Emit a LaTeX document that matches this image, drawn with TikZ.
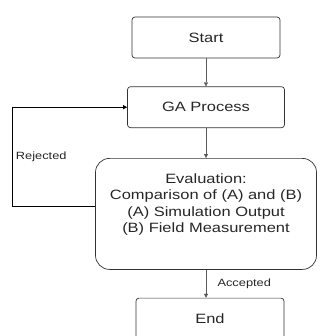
\documentclass[tikz,border=0pt]{standalone}
\usepackage{fontspec}
\setmainfont{Liberation Sans}[FakeStretch=1.22]
\usetikzlibrary{arrows.meta}
\usetikzlibrary{positioning}

\tikzset{
  stepbox/.style={draw=black!80, line width=0.7pt, rounded corners=3pt, minimum width=148pt,
    minimum height=41pt, text=black!85, font=\fontsize{13.5}{16.5}\selectfont},
  evalbox/.style={stepbox, rounded corners=14pt, minimum width=221pt,
    minimum height=111pt, align=center},
  flow/.style={draw=black!65, -{Triangle[length=4pt,width=4pt]}},
  loopback/.style={draw=black, line width=1pt, -{Triangle[length=4pt,width=4pt]}},
  tag/.style={text=black!85, font=\fontsize{10.5}{12}\selectfont}
}

\begin{document}
\begin{tikzpicture}[x=1pt,y=-1pt]
\clip (0,0) rectangle (321,336);
\node[stepbox] at (206,37.5) (start) {Start};
\node[stepbox, minimum width=157pt] (ga) [below=28pt of start] {GA Process};
\node[evalbox] (eval) [below=30pt of ga] {Evaluation:\\Comparison of (A) and (B)\\(A) Simulation Output\\(B) Field Measurement\\[5pt]\mbox{}};
\node[stepbox] (end) [below=28pt of eval, xshift=4pt] {End};
\draw[flow] (start) -- (ga);
\draw[flow] (ga) -- (eval);
\draw[flow] (eval.south) -- node[tag, right=8pt] {Accepted} (eval.south |- end.north);
\draw[loopback] ([yshift=7pt]eval.west) -- ++(-83,0) |- node[tag, pos=0.25, right] {Rejected} (ga.west);
\end{tikzpicture}
\end{document}
